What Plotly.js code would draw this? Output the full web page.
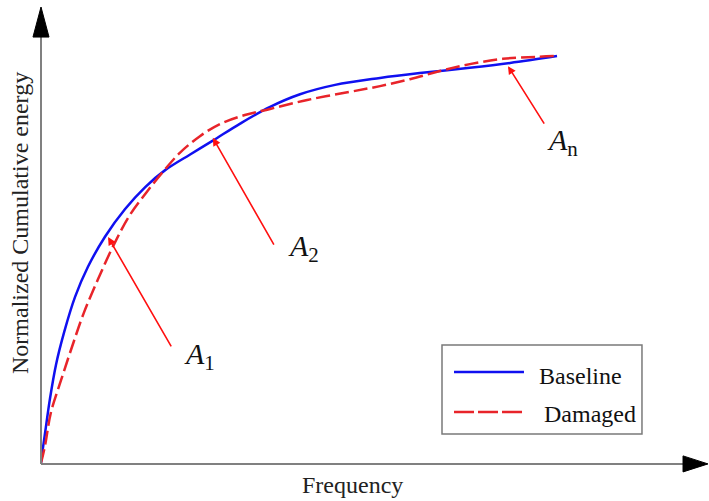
<!DOCTYPE html>
<html>
<head>
<meta charset="utf-8">
<script src="https://cdn.plot.ly/plotly-3.0.1.min.js"></script>
<style>html,body{margin:0;padding:0;background:#fff;}#chart{width:709px;height:501px;}</style>
</head>
<body>
<div id="chart"></div>
<script>
// Normalized frequency (x) and normalized cumulative energy (y)
const baselineFreq = [0, 0.004, 0.010, 0.017, 0.029, 0.045, 0.066, 0.091, 0.124, 0.163, 0.202, 0.240, 0.289, 0.333, 0.386, 0.444, 0.502, 0.570, 0.657, 0.734, 0.831, 0.909, 1.0];
const baselineEnergy = [0, 0.039, 0.093, 0.155, 0.241, 0.322, 0.408, 0.482, 0.556, 0.624, 0.678, 0.719, 0.758, 0.792, 0.834, 0.875, 0.906, 0.929, 0.946, 0.958, 0.971, 0.983, 1.0];
const damagedFreq = [0, 0.008, 0.019, 0.039, 0.060, 0.083, 0.110, 0.141, 0.172, 0.205, 0.236, 0.269, 0.308, 0.347, 0.395, 0.444, 0.516, 0.599, 0.657, 0.715, 0.773, 0.831, 0.895, 0.961, 1.0];
const damagedEnergy = [0, 0.044, 0.123, 0.204, 0.285, 0.369, 0.450, 0.536, 0.609, 0.666, 0.715, 0.762, 0.803, 0.833, 0.855, 0.870, 0.892, 0.912, 0.926, 0.943, 0.963, 0.980, 0.993, 0.998, 1.0];
const seriesNames = ["Baseline", "Damaged"];
const xTitle = "Frequency";
const yTitle = "Normalized Cumulative energy";
// Callout labels: tip point on curve, tail point, label position
const calloutLabels = ["<i>A</i><sub>1</sub>", "<i>A</i><sub>2</sub>", "<i>A</i><sub>n</sub>"];
const calloutTipX = [0.130, 0.333, 0.905];
const calloutTipY = [0.555, 0.799, 0.975];
const calloutTailX = [0.254, 0.453, 0.977];
const calloutTailY = [0.283, 0.533, 0.830];
const calloutLabelX = [0.308, 0.508, 1.010];
const calloutLabelY = [0.263, 0.528, 0.789];

const BLUE = "#1010f0", RED = "#e8242a", AXIS = "#808080";
const FONT = "Liberation Serif, Times New Roman, serif";

const traces = [
  {x: baselineFreq, y: baselineEnergy, name: seriesNames[0], mode: "lines",
   line: {color: BLUE, width: 2.5, shape: "spline", smoothing: 1}, showlegend: false, hoverinfo: "skip"},
  {x: damagedFreq, y: damagedEnergy, name: seriesNames[1], mode: "lines",
   line: {color: RED, width: 2.5, dash: "14px,5px", shape: "spline", smoothing: 1}, showlegend: false, hoverinfo: "skip"}
];

const annotations = [];
for (let i = 0; i < calloutLabels.length; i++) {
  annotations.push({x: calloutTipX[i], y: calloutTipY[i], xref: "x", yref: "y",
    ax: calloutTailX[i], ay: calloutTailY[i], axref: "x", ayref: "y",
    text: "", showarrow: true, arrowhead: 2, arrowsize: 1, arrowwidth: 1.6, arrowcolor: "#ff1010"});
  annotations.push({x: calloutLabelX[i], y: calloutLabelY[i], xref: "x", yref: "y",
    text: calloutLabels[i], showarrow: false, font: {family: FONT, size: 30, color: "#111"}});
}
// Axis titles
annotations.push({x: 0.5, y: -0.0485, xref: "paper", yref: "paper", xanchor: "center", yanchor: "middle",
  text: xTitle, showarrow: false, font: {family: FONT, size: 24, color: "#222"}});
annotations.push({x: -0.0338, y: 0.524, xref: "paper", yref: "paper", xanchor: "center", yanchor: "middle",
  text: yTitle, textangle: -90, showarrow: false, font: {family: FONT, size: 24, color: "#222"}});
// Legend (drawn manually to match the long line samples)
const legX0 = 0.6447, legX1 = 0.9662, legY0 = 0.0633, legY1 = 0.2576;
const legRowY = [0.1987, 0.1114];
const legLineX = [0.664, 0.7765];
const legTextX = [0.7974, 0.8055];
const legTextY = [0.190, 0.108];
annotations.push({x: legTextX[0], y: legTextY[0], xref: "paper", yref: "paper", xanchor: "left", yanchor: "middle",
  text: seriesNames[0], showarrow: false, font: {family: FONT, size: 24, color: "#111"}});
annotations.push({x: legTextX[1], y: legTextY[1], xref: "paper", yref: "paper", xanchor: "left", yanchor: "middle",
  text: seriesNames[1], showarrow: false, font: {family: FONT, size: 24, color: "#111"}});

const axTop = 0.930, axRight = 1.0322;
const shapes = [
  // y axis line + arrowhead
  {type: "line", xref: "paper", yref: "paper", x0: 0, x1: 0, y0: -0.002, y1: axTop, line: {color: AXIS, width: 2}},
  {type: "path", xref: "paper", yref: "paper", path: "M -0.0129 0.930 L 0 0.9956 L 0.0129 0.930 Z", fillcolor: "#000", line: {color: "#000", width: 1}},
  // x axis line + arrowhead
  {type: "line", xref: "paper", yref: "paper", x0: 0, x1: axRight, y0: -0.002, y1: -0.002, line: {color: AXIS, width: 2}},
  {type: "path", xref: "paper", yref: "paper", path: "M 1.0322 0.0155 L 1.0723 -0.002 L 1.0322 -0.0195 Z", fillcolor: "#000", line: {color: "#000", width: 1}},
  // legend box and samples
  {type: "rect", xref: "paper", yref: "paper", x0: legX0, x1: legX1, y0: legY0, y1: legY1, line: {color: "#7a7a7a", width: 1.5}, fillcolor: "rgba(255,255,255,0)"},
  {type: "line", xref: "paper", yref: "paper", x0: legLineX[0], x1: legLineX[1], y0: legRowY[0], y1: legRowY[0], line: {color: BLUE, width: 2.5}},
  {type: "line", xref: "paper", yref: "paper", x0: legLineX[0], x1: legLineX[1], y0: legRowY[1], y1: legRowY[1], line: {color: RED, width: 2.5, dash: "20px,4px"}}
];

const layout = {
  width: 709, height: 501,
  margin: {l: 41, r: 46, t: 5, b: 38},
  paper_bgcolor: "#fff", plot_bgcolor: "#fff",
  showlegend: false,
  xaxis: {range: [0, 1.2054], showgrid: false, zeroline: false, showline: false, showticklabels: false, ticks: ""},
  yaxis: {range: [0, 1.1253], showgrid: false, zeroline: false, showline: false, showticklabels: false, ticks: ""},
  annotations: annotations,
  shapes: shapes
};
Plotly.newPlot("chart", traces, layout, {displayModeBar: false, staticPlot: true});
</script>
</body>
</html>
